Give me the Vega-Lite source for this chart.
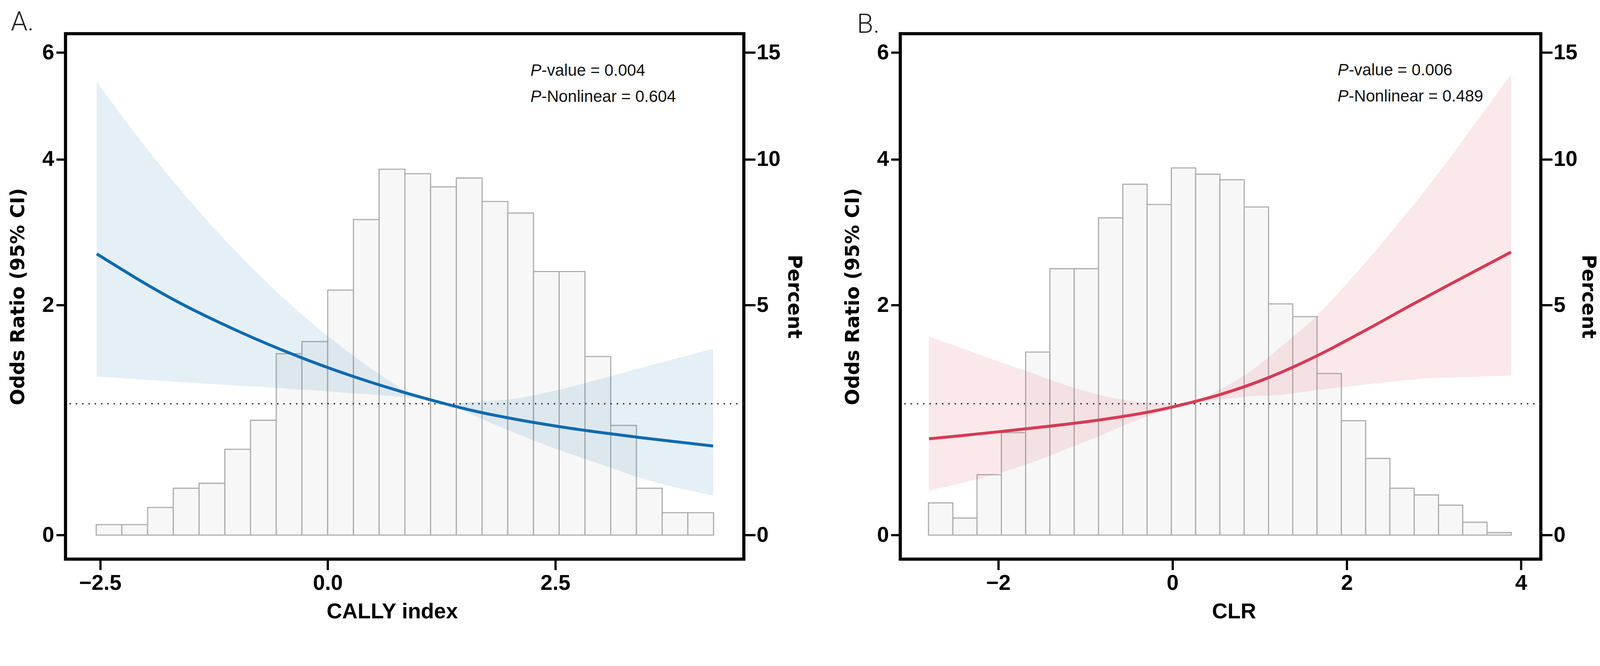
{
  "$schema": "https://vega.github.io/schema/vega-lite/v6.json",
  "background": "white",
  "padding": {"left": 17.7, "top": 18.3, "right": 10, "bottom": 0},
  "bounds": "flush",
  "spacing": 400,
  "datasets": {
    "histA": [
      {"bin_start": -2.543, "bin_end": -2.261, "pct": 0.17},
      {"bin_start": -2.261, "bin_end": -1.978, "pct": 0.17},
      {"bin_start": -1.978, "bin_end": -1.696, "pct": 0.46},
      {"bin_start": -1.696, "bin_end": -1.413, "pct": 0.80},
      {"bin_start": -1.413, "bin_end": -1.130, "pct": 0.89},
      {"bin_start": -1.130, "bin_end": -0.848, "pct": 1.54},
      {"bin_start": -0.848, "bin_end": -0.565, "pct": 2.14},
      {"bin_start": -0.565, "bin_end": -0.283, "pct": 3.69},
      {"bin_start": -0.283, "bin_end": 0.0, "pct": 4.00},
      {"bin_start": 0.0, "bin_end": 0.283, "pct": 5.43},
      {"bin_start": 0.283, "bin_end": 0.565, "pct": 7.71},
      {"bin_start": 0.565, "bin_end": 0.848, "pct": 9.60},
      {"bin_start": 0.848, "bin_end": 1.130, "pct": 9.42},
      {"bin_start": 1.130, "bin_end": 1.413, "pct": 8.91},
      {"bin_start": 1.413, "bin_end": 1.696, "pct": 9.25},
      {"bin_start": 1.696, "bin_end": 1.978, "pct": 8.36},
      {"bin_start": 1.978, "bin_end": 2.261, "pct": 7.94},
      {"bin_start": 2.261, "bin_end": 2.543, "pct": 5.99},
      {"bin_start": 2.543, "bin_end": 2.826, "pct": 5.99},
      {"bin_start": 2.826, "bin_end": 3.109, "pct": 3.62},
      {"bin_start": 3.109, "bin_end": 3.391, "pct": 2.03},
      {"bin_start": 3.391, "bin_end": 3.674, "pct": 0.80},
      {"bin_start": 3.674, "bin_end": 3.956, "pct": 0.37},
      {"bin_start": 3.956, "bin_end": 4.239, "pct": 0.37}
    ],
    "lineA": [
      {"x": -2.537, "or": 2.620},
      {"x": -1.676, "or": 2.051},
      {"x": -0.952, "or": 1.696},
      {"x": -0.349, "or": 1.457},
      {"x": 0.255, "or": 1.260},
      {"x": 0.901, "or": 1.088},
      {"x": 1.292, "or": 1.0},
      {"x": 1.597, "or": 0.939},
      {"x": 2.065, "or": 0.864},
      {"x": 2.535, "or": 0.803},
      {"x": 3.003, "or": 0.752},
      {"x": 3.472, "or": 0.707},
      {"x": 4.234, "or": 0.642}
    ],
    "bandA": [
      {"x": -2.537, "lower": 1.251, "upper": 5.398},
      {"x": -2.2, "lower": 1.232, "upper": 4.615},
      {"x": -1.9, "lower": 1.215, "upper": 4.014},
      {"x": -1.6, "lower": 1.198, "upper": 3.491},
      {"x": -1.2, "lower": 1.177, "upper": 2.898},
      {"x": -0.8, "lower": 1.157, "upper": 2.406},
      {"x": -0.4, "lower": 1.135, "upper": 1.998},
      {"x": 0.0, "lower": 1.112, "upper": 1.659},
      {"x": 0.4, "lower": 1.088, "upper": 1.377},
      {"x": 0.7, "lower": 1.070, "upper": 1.198},
      {"x": 0.9, "lower": 1.059, "upper": 1.091},
      {"x": 1.1, "lower": 1.033, "upper": 1.046},
      {"x": 1.29, "lower": 1.0, "upper": 1.0},
      {"x": 1.714, "lower": 0.859, "upper": 1.024},
      {"x": 1.972, "lower": 0.775, "upper": 1.038},
      {"x": 2.535, "lower": 0.612, "upper": 1.126},
      {"x": 3.003, "lower": 0.498, "upper": 1.230},
      {"x": 3.472, "lower": 0.388, "upper": 1.342},
      {"x": 4.234, "lower": 0.269, "upper": 1.526}
    ],
    "histB": [
      {"bin_start": -2.800, "bin_end": -2.521, "pct": 0.54},
      {"bin_start": -2.521, "bin_end": -2.243, "pct": 0.28},
      {"bin_start": -2.243, "bin_end": -1.964, "pct": 1.05},
      {"bin_start": -1.964, "bin_end": -1.685, "pct": 1.88},
      {"bin_start": -1.685, "bin_end": -1.407, "pct": 3.73},
      {"bin_start": -1.407, "bin_end": -1.128, "pct": 6.08},
      {"bin_start": -1.128, "bin_end": -0.849, "pct": 6.08},
      {"bin_start": -0.849, "bin_end": -0.570, "pct": 7.77},
      {"bin_start": -0.570, "bin_end": -0.292, "pct": 9.01},
      {"bin_start": -0.292, "bin_end": -0.013, "pct": 8.25},
      {"bin_start": -0.013, "bin_end": 0.266, "pct": 9.65},
      {"bin_start": 0.266, "bin_end": 0.544, "pct": 9.40},
      {"bin_start": 0.544, "bin_end": 0.823, "pct": 9.18},
      {"bin_start": 0.823, "bin_end": 1.102, "pct": 8.16},
      {"bin_start": 1.102, "bin_end": 1.380, "pct": 5.03},
      {"bin_start": 1.380, "bin_end": 1.659, "pct": 4.67},
      {"bin_start": 1.659, "bin_end": 1.938, "pct": 3.20},
      {"bin_start": 1.938, "bin_end": 2.217, "pct": 2.13},
      {"bin_start": 2.217, "bin_end": 2.495, "pct": 1.36},
      {"bin_start": 2.495, "bin_end": 2.774, "pct": 0.80},
      {"bin_start": 2.774, "bin_end": 3.053, "pct": 0.68},
      {"bin_start": 3.053, "bin_end": 3.331, "pct": 0.50},
      {"bin_start": 3.331, "bin_end": 3.610, "pct": 0.21},
      {"bin_start": 3.610, "bin_end": 3.889, "pct": 0.04}
    ],
    "lineB": [
      {"x": -2.794, "or": 0.701},
      {"x": -2.392, "or": 0.729},
      {"x": -1.952, "or": 0.762},
      {"x": -1.416, "or": 0.805},
      {"x": -0.830, "or": 0.859},
      {"x": -0.294, "or": 0.924},
      {"x": 0.0, "or": 0.971},
      {"x": 0.155, "or": 1.0},
      {"x": 0.555, "or": 1.085},
      {"x": 1.099, "or": 1.240},
      {"x": 1.643, "or": 1.448},
      {"x": 2.239, "or": 1.732},
      {"x": 2.757, "or": 2.007},
      {"x": 3.275, "or": 2.291},
      {"x": 3.884, "or": 2.643}
    ],
    "bandB": [
      {"x": -2.794, "lower": 0.303, "upper": 1.655},
      {"x": -2.4, "lower": 0.361, "upper": 1.526},
      {"x": -2.0, "lower": 0.429, "upper": 1.399},
      {"x": -1.6, "lower": 0.516, "upper": 1.281},
      {"x": -1.2, "lower": 0.622, "upper": 1.164},
      {"x": -0.8, "lower": 0.735, "upper": 1.072},
      {"x": -0.4, "lower": 0.859, "upper": 1.018},
      {"x": 0.0, "lower": 0.962, "upper": 0.998},
      {"x": 0.155, "lower": 1.0, "upper": 1.0},
      {"x": 0.555, "lower": 1.038, "upper": 1.135},
      {"x": 0.9, "lower": 1.069, "upper": 1.305},
      {"x": 1.2, "lower": 1.077, "upper": 1.513},
      {"x": 1.669, "lower": 1.126, "upper": 1.891},
      {"x": 2.0, "lower": 1.155, "upper": 2.249},
      {"x": 2.5, "lower": 1.201, "upper": 2.897},
      {"x": 3.0, "lower": 1.238, "upper": 3.683},
      {"x": 3.5, "lower": 1.248, "upper": 4.672},
      {"x": 3.884, "lower": 1.261, "upper": 5.539}
    ]
  },
  "hconcat": [
    {
      "width": 1736.5,
      "height": 1346,
      "layer": [
        {
          "data": {"name": "histA"},
          "mark": {"type": "rect", "fill": "#f7f7f7", "stroke": "#ababab", "strokeWidth": 2.84},
          "encoding": {
            "x": {
              "field": "bin_start", "type": "quantitative", "title": "CALLY index",
              "scale": {"domain": [-2.88, 4.571], "nice": false, "zero": false},
              "axis": {"values": [-2.5, 0, 2.5], "format": ".1f", "tickSize": 27.5, "labelPadding": 7.6, "titlePadding": 19, "titleX": 836}
            },
            "x2": {"field": "bin_end"},
            "y": {
              "field": "pct", "type": "quantitative", "title": "Percent",
              "scale": {"type": "symlog", "constant": 6.5, "domain": [-0.4, 16.025], "nice": false, "zero": false},
              "axis": {"orient": "right", "values": [0, 5, 10, 15], "format": "d", "tickSize": 29.4, "labelPadding": 2.8, "titlePadding": 9.5, "titleFont": "DejaVu Sans", "titleFontSize": 49.3}
            },
            "y2": {"datum": 0}
          }
        },
        {
          "layer": [
            {
              "data": {"name": "bandA"},
              "mark": {"type": "area", "color": "#0e6bb0", "opacity": 0.11, "interpolate": "monotone"},
              "encoding": {
                "x": {"field": "x", "type": "quantitative", "title": "CALLY index"},
                "y": {
                  "field": "lower", "type": "quantitative", "title": "Odds Ratio (95% CI)",
                  "scale": {"type": "symlog", "constant": 2.6, "domain": [-0.16, 6.41], "nice": false, "zero": false},
                  "axis": {"orient": "left", "values": [0, 2, 4, 6], "format": "d", "tickSize": 23.7, "labelPadding": 5.7, "titlePadding": 36, "titleFont": "DejaVu Sans", "titleFontSize": 49.3}
                },
                "y2": {"field": "upper"}
              }
            },
            {
              "data": {"values": [{}]},
              "mark": {"type": "rule", "color": "#222222", "strokeWidth": 3.5, "strokeDash": [3.4, 12.7]},
              "encoding": {"y": {"datum": 1, "type": "quantitative"}}
            },
            {
              "data": {"name": "lineA"},
              "mark": {"type": "line", "color": "#0e6bb0", "strokeWidth": 7.6, "interpolate": "monotone"},
              "encoding": {
                "x": {"field": "x", "type": "quantitative", "title": "CALLY index"},
                "y": {"field": "or", "type": "quantitative", "title": "Odds Ratio (95% CI)"}
              }
            },
            {
              "data": {"values": [{}]},
              "mark": {"type": "text", "text": "P", "fontStyle": "italic", "font": "Liberation Sans", "fontSize": 41.7, "align": "left", "baseline": "alphabetic", "color": "#111111"},
              "encoding": {"x": {"datum": 2.227, "type": "quantitative"}, "y": {"datum": 5.515, "type": "quantitative"}}
            },
            {
              "data": {"values": [{}]},
              "mark": {"type": "text", "text": "-value = 0.004", "font": "Liberation Sans", "fontSize": 41.7, "align": "left", "baseline": "alphabetic", "dx": 28.4, "color": "#111111"},
              "encoding": {"x": {"datum": 2.227, "type": "quantitative"}, "y": {"datum": 5.515, "type": "quantitative"}}
            },
            {
              "data": {"values": [{}]},
              "mark": {"type": "text", "text": "P", "fontStyle": "italic", "font": "Liberation Sans", "fontSize": 41.7, "align": "left", "baseline": "alphabetic", "color": "#111111"},
              "encoding": {"x": {"datum": 2.227, "type": "quantitative"}, "y": {"datum": 5.011, "type": "quantitative"}}
            },
            {
              "data": {"values": [{}]},
              "mark": {"type": "text", "text": "-Nonlinear = 0.604", "font": "Liberation Sans", "fontSize": 41.7, "align": "left", "baseline": "alphabetic", "dx": 28.4, "color": "#111111"},
              "encoding": {"x": {"datum": 2.227, "type": "quantitative"}, "y": {"datum": 5.011, "type": "quantitative"}}
            },
            {
              "data": {"values": [{}]},
              "mark": {"type": "text", "text": "A.", "font": "Roboto", "fontWeight": 300, "fontSize": 68.2, "align": "left", "baseline": "alphabetic", "color": "#222222"},
              "encoding": {"x": {"datum": -3.48, "type": "quantitative"}, "y": {"datum": 6.485, "type": "quantitative"}}
            }
          ]
        }
      ],
      "resolve": {"scale": {"y": "independent"}, "axis": {"y": "independent"}}
    },
    {
      "width": 1639.8,
      "height": 1346,
      "layer": [
        {
          "data": {"name": "histB"},
          "mark": {"type": "rect", "fill": "#f7f7f7", "stroke": "#ababab", "strokeWidth": 2.84},
          "encoding": {
            "x": {
              "field": "bin_start", "type": "quantitative", "title": "CLR",
              "scale": {"domain": [-3.124, 4.227], "nice": false, "zero": false},
              "axis": {"values": [-2, 0, 2, 4], "format": "d", "tickSize": 27.5, "labelPadding": 7.6, "titlePadding": 19, "titleX": 854}
            },
            "x2": {"field": "bin_end"},
            "y": {
              "field": "pct", "type": "quantitative", "title": "Percent",
              "scale": {"type": "symlog", "constant": 6.5, "domain": [-0.4, 16.025], "nice": false, "zero": false},
              "axis": {"orient": "right", "values": [0, 5, 10, 15], "format": "d", "tickSize": 29.4, "labelPadding": 2.8, "titlePadding": 3, "titleFont": "DejaVu Sans", "titleFontSize": 49.3}
            },
            "y2": {"datum": 0}
          }
        },
        {
          "layer": [
            {
              "data": {"name": "bandB"},
              "mark": {"type": "area", "color": "#e0405c", "opacity": 0.12, "interpolate": "monotone"},
              "encoding": {
                "x": {"field": "x", "type": "quantitative", "title": "CLR"},
                "y": {
                  "field": "lower", "type": "quantitative", "title": "Odds Ratio (95% CI)",
                  "scale": {"type": "symlog", "constant": 2.6, "domain": [-0.16, 6.41], "nice": false, "zero": false},
                  "axis": {"orient": "left", "values": [0, 2, 4, 6], "format": "d", "tickSize": 23.7, "labelPadding": 5.7, "titlePadding": 36, "titleFont": "DejaVu Sans", "titleFontSize": 49.3}
                },
                "y2": {"field": "upper"}
              }
            },
            {
              "data": {"values": [{}]},
              "mark": {"type": "rule", "color": "#222222", "strokeWidth": 3.5, "strokeDash": [3.4, 12.7]},
              "encoding": {"y": {"datum": 1, "type": "quantitative"}}
            },
            {
              "data": {"name": "lineB"},
              "mark": {"type": "line", "color": "#d63a55", "strokeWidth": 7.6, "interpolate": "monotone"},
              "encoding": {
                "x": {"field": "x", "type": "quantitative", "title": "CLR"},
                "y": {"field": "or", "type": "quantitative", "title": "Odds Ratio (95% CI)"}
              }
            },
            {
              "data": {"values": [{}]},
              "mark": {"type": "text", "text": "P", "fontStyle": "italic", "font": "Liberation Sans", "fontSize": 41.7, "align": "left", "baseline": "alphabetic", "color": "#111111"},
              "encoding": {"x": {"datum": 1.895, "type": "quantitative"}, "y": {"datum": 5.523, "type": "quantitative"}}
            },
            {
              "data": {"values": [{}]},
              "mark": {"type": "text", "text": "-value = 0.006", "font": "Liberation Sans", "fontSize": 41.7, "align": "left", "baseline": "alphabetic", "dx": 28.4, "color": "#111111"},
              "encoding": {"x": {"datum": 1.895, "type": "quantitative"}, "y": {"datum": 5.523, "type": "quantitative"}}
            },
            {
              "data": {"values": [{}]},
              "mark": {"type": "text", "text": "P", "fontStyle": "italic", "font": "Liberation Sans", "fontSize": 41.7, "align": "left", "baseline": "alphabetic", "color": "#111111"},
              "encoding": {"x": {"datum": 1.895, "type": "quantitative"}, "y": {"datum": 5.017, "type": "quantitative"}}
            },
            {
              "data": {"values": [{}]},
              "mark": {"type": "text", "text": "-Nonlinear = 0.489", "font": "Liberation Sans", "fontSize": 41.7, "align": "left", "baseline": "alphabetic", "dx": 28.4, "color": "#111111"},
              "encoding": {"x": {"datum": 1.895, "type": "quantitative"}, "y": {"datum": 5.017, "type": "quantitative"}}
            },
            {
              "data": {"values": [{}]},
              "mark": {"type": "text", "text": "B.", "font": "Roboto", "fontWeight": 300, "fontSize": 68.2, "align": "left", "baseline": "alphabetic", "color": "#222222"},
              "encoding": {"x": {"datum": -3.621, "type": "quantitative"}, "y": {"datum": 6.426, "type": "quantitative"}}
            }
          ]
        }
      ],
      "resolve": {"scale": {"y": "independent"}, "axis": {"y": "independent"}}
    }
  ],
  "config": {
    "view": {"stroke": "black", "strokeWidth": 8.06},
    "axis": {
      "grid": false,
      "domain": false,
      "labelFont": "Liberation Sans",
      "labelFontWeight": "bold",
      "labelFontSize": 55,
      "labelColor": "black",
      "tickColor": "black",
      "tickWidth": 5.7,
      "titleFont": "Liberation Sans",
      "titleFontWeight": "bold",
      "titleFontSize": 55,
      "titleColor": "black"
    }
  }
}
